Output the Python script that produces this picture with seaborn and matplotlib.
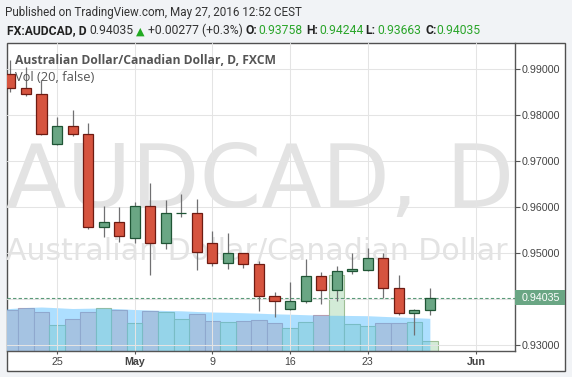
import numpy as np
import pandas as pd
import matplotlib
matplotlib.use("Agg")
import matplotlib.pyplot as plt
import matplotlib.transforms as mtrans
from matplotlib.patches import Rectangle
import seaborn as sns

# ---------------- data ----------------
dates = ["2016-04-20", "2016-04-21", "2016-04-22",
         "2016-04-25", "2016-04-26", "2016-04-27", "2016-04-28", "2016-04-29",
         "2016-05-02", "2016-05-03", "2016-05-04", "2016-05-05", "2016-05-06",
         "2016-05-09", "2016-05-10", "2016-05-11", "2016-05-12", "2016-05-13",
         "2016-05-16", "2016-05-17", "2016-05-18", "2016-05-19", "2016-05-20",
         "2016-05-23", "2016-05-24", "2016-05-25", "2016-05-26", "2016-05-27"]
opens = [0.98874, 0.98572, 0.98441, 0.97357, 0.97754, 0.97587, 0.95558, 0.95666,
         0.95319, 0.96019, 0.95211, 0.95861, 0.95861, 0.95211, 0.94777, 0.94994,
         0.94756, 0.94075, 0.93780, 0.93953, 0.94508, 0.94192, 0.94604, 0.94625,
         0.94899, 0.94235, 0.93693, 0.93758]
highs = [0.99184, 0.99039, 0.98751, 0.97955, 0.98100, 0.97825, 0.96019, 0.95991,
         0.96099, 0.96524, 0.96149, 0.96279, 0.96171, 0.95477, 0.95440, 0.95000,
         0.94834, 0.94161, 0.94365, 0.94864, 0.94582, 0.94712, 0.94994, 0.95102,
         0.94994, 0.94523, 0.93786, 0.94244]
lows = [0.98484, 0.98410, 0.97558, 0.97340, 0.97543, 0.95521, 0.95354, 0.95245,
        0.95224, 0.94523, 0.95087, 0.95787, 0.94632, 0.94725, 0.94653, 0.94682,
        0.93750, 0.93606, 0.93770, 0.93910, 0.93888, 0.93966, 0.94539, 0.94620,
        0.94018, 0.93656, 0.93223, 0.93663]
closes = [0.98571, 0.98441, 0.97574, 0.97754, 0.97587, 0.95558, 0.95666, 0.95375,
          0.96019, 0.95211, 0.95861, 0.95875, 0.95016, 0.94777, 0.94994, 0.94756,
          0.94075, 0.93953, 0.93953, 0.94508, 0.94192, 0.94604, 0.94654, 0.94899,
          0.94235, 0.93693, 0.93758, 0.94035]
volumes = [41.0, 42.7, 38.7, 26.0, 31.7, 38.7, 42.7, 40.7, 27.7, 39.7, 38.7, 31.7,
           37.0, 30.0, 28.7, 30.0, 31.0, 27.7, 22.7, 28.7, 36.0, 76.0, 26.7, 25.0,
           27.7, 27.7, 28.7, 10.0]
ma_dates = ["2016-04-19"] + dates
ma_values = [41.0, 42.5, 43.5, 44.0, 43.3, 42.5, 42.8, 43.0, 42.3, 41.5, 41.0, 40.5,
             40.2, 39.5, 39.0, 38.7, 38.3, 37.8, 37.2, 36.8, 36.3, 35.8, 35.7, 35.5,
             35.3, 34.6, 34.0, 33.4, 32.7]
tick_dates = ["2016-04-25", "2016-05-02", "2016-05-09", "2016-05-16", "2016-05-23", "2016-06-01"]
tick_labels = ["25", "May", "9", "16", "23", "Jun"]
price_ticks = [0.93, 0.94, 0.95, 0.96, 0.97, 0.98, 0.99]
symbol = "FX:AUDCAD, D"
title_line = "Published on TradingView.com, May 27, 2016 12:52 CEST"
legend_line = "Australian Dollar/Canadian Dollar, D, FXCM"
vol_line = "Vol (20, false)"
wm_big = "AUDCAD, D"
wm_small = "Australian Dollar/Canadian Dollar"

# ---------------- style ----------------
sns.set_theme(style="whitegrid")
plt.rcParams["font.family"] = ["Liberation Sans", "DejaVu Sans"]
HEAD = ["Roboto", "DejaVu Sans"]
LEG = ["Open Sans", "DejaVu Sans"]
BG = "#f1f3f6"
RED, RED_E = "#d6543f", "#6e1b12"
GRN, GRN_E = "#6aa684", "#1f5535"
WICK = "#707072"
VOL_DN, VOL_DN_E = "#f0cccc", "#c79aa6"
VOL_UP, VOL_UP_E = "#d3ebd7", "#9fbf96"
MA_COLOR = (75 / 255, 186 / 255, 1.0)
GRID = "#e4e4e4"
AXC = "#555555"
TXT = "#444444"
VAL_GREEN = "#2aa52a"

W, H = 572, 377
fig = plt.figure(figsize=(W / 100, H / 100), dpi=100, facecolor=BG)
fx = lambda x: x / W
fy = lambda y: 1 - y / H
renderer = fig.canvas.get_renderer()


def fit_width(txt, target_px):
    """Scale a text's font size so that its rendered width is target_px."""
    for _ in range(3):
        wpx = txt.get_window_extent(renderer).width
        txt.set_fontsize(txt.get_fontsize() * target_px / wpx)


panel = Rectangle((fx(6.5), fy(370.5)), fx(565) - fx(6.5), fy(43) - fy(370.5),
                  transform=fig.transFigure, fc="white", ec="#505050", lw=1.0, zorder=0)
fig.add_artist(panel)

ax = fig.add_axes([fx(7), fy(351), fx(515) - fx(7), fy(43) - fy(351)])
ax_vol = ax.twinx()
ax.set_zorder(2)
ax_vol.set_zorder(1)
ax.patch.set_visible(False)
ax_vol.patch.set_visible(False)

# trading-day positions
bdays = pd.bdate_range("2016-04-01", "2016-06-30")
base = bdays.get_loc(pd.Timestamp(dates[0]))
pos_of = lambda d: bdays.get_loc(pd.Timestamp(d)) - base
pos = np.array([pos_of(d) for d in dates])
ma_pos = np.array([pos_of(d) for d in ma_dates])
tick_pos = [pos_of(d) for d in tick_dates]

o, h, l, c = map(np.array, (opens, highs, lows, closes))
up = c >= o

# ---------------- volume pane ----------------
vol_df = pd.DataFrame({"pos": pos, "volume": volumes,
                       "dir": np.where(up, "up", "down")})
sns.barplot(data=vol_df, x="pos", y="volume", hue="dir",
            palette={"up": VOL_UP, "down": VOL_DN}, native_scale=True,
            dodge=False, width=1.0, saturation=1, errorbar=None, legend=False,
            ax=ax_vol, linewidth=0.8, zorder=1)
for p in ax_vol.patches:
    fcol = matplotlib.colors.to_hex(p.get_facecolor())
    p.set_edgecolor(VOL_UP_E if fcol == VOL_UP else VOL_DN_E)
ax_vol.fill_between(ma_pos, 0, ma_values, color=MA_COLOR, alpha=0.45, lw=0, zorder=2)
ax_vol.set_ylim(0, 308)
ax_vol.set_yticks([])
ax_vol.set_xlabel("")
ax_vol.set_ylabel("")
ax_vol.grid(False)
for s in ax_vol.spines.values():
    s.set_visible(False)

# watermarks
t_big = ax_vol.text(fx(260), fy(206.7), wm_big, transform=fig.transFigure, ha="center",
                    va="baseline", fontsize=63, color="#e3e3e3", family="DejaVu Sans", zorder=0)
t_small = ax_vol.text(fx(257), fy(260), wm_small, transform=fig.transFigure, ha="center",
                      va="baseline", fontsize=21.5, color="#e3e3e3", family="DejaVu Sans", zorder=0)
fit_width(t_big, 508)
fit_width(t_small, 499)

# ---------------- candles ----------------
ax.vlines(pos, l, h, color=WICK, lw=0.9, zorder=3)
body_bottom = np.minimum(o, c)
body_h = np.maximum(np.abs(c - o), 0.00004)
ax.bar(pos, body_h, bottom=body_bottom, width=0.65,
       color=np.where(up, GRN, RED), edgecolor=np.where(up, GRN_E, RED_E),
       linewidth=0.9, zorder=4)

last = c[-1]
ax.axhline(last, color="#5a9a78", lw=0.8, ls=(0, (3, 2)), zorder=2)

ax.set_xlim(-0.22, 32.48)
ax.set_ylim(0.92876, 0.99553)

# axes styling
ax.yaxis.tick_right()
ax.set_yticks(price_ticks)
# the last-price tag covers the tick label next to it
ax.set_yticklabels(["" if abs(t - last) < 0.003 else f"{t:.5f}" for t in price_ticks])
ax.set_xticks(tick_pos)
ax.set_xticklabels(tick_labels)
for lab in ax.get_xticklabels():
    if not lab.get_text().isdigit():
        lab.set_fontweight("bold")
ax.tick_params(axis="y", direction="out", length=3.6, width=0.8, color=AXC, pad=1.5,
               labelsize=7.7, labelcolor=TXT, right=True, left=False)
ax.tick_params(axis="x", direction="out", length=2.3, width=0.8, color=AXC, pad=2.2,
               labelsize=7.7, labelcolor=TXT, bottom=True)
ax.grid(True, color=GRID, lw=0.75)
ax.set_axisbelow(True)
ax.spines["left"].set_visible(False)
ax.spines["top"].set_visible(False)
for side in ("right", "bottom"):
    ax.spines[side].set_visible(True)
    ax.spines[side].set_color(AXC)
    ax.spines[side].set_linewidth(1.0)

# last-price tag on the price scale
trans = mtrans.blended_transform_factory(ax.transAxes, ax.transData)
ax.add_patch(Rectangle((1.0, last - 0.00155), 50 / 508, 0.0031, transform=trans,
                       clip_on=False, fc=GRN, ec="none", zorder=10))
ax.text(1.0 + 7 / 508, last, f"{last:.5f}", transform=trans, color="white",
        fontsize=7.7, va="center", ha="left", zorder=11, clip_on=False)

# in-chart legend
t_leg = ax.text(fx(15), fy(64.3), legend_line, transform=fig.transFigure, family=LEG,
                fontsize=8.5, fontweight="bold", color="#555555", va="baseline", zorder=12)
t_vol = ax.text(fx(15), fy(81), vol_line, transform=fig.transFigure, family=LEG,
                fontsize=8.5, color="#555555", va="baseline", zorder=12)
fit_width(t_leg, 262)
fit_width(t_vol, 79)

# ---------------- header ----------------
t_title = fig.text(fx(5), fy(16.3), title_line, family=HEAD, fontsize=8.4,
                   color="#333333", va="baseline")
fit_width(t_title, 298)
chg = c[-1] - c[-2]
pct = chg / c[-2] * 100
y2 = fy(34.3)
pieces = [
    (7.3, symbol, "bold", "#222222"),
    (89.3, f"{last:.5f}", "normal", "#333333"),
    (148.3, f"{chg:+.5f} ({pct:+.1f}%)", "normal", "#333333"),
    (245.7, "O:", "bold", "#222222"), (258.7, f"{o[-1]:.5f}", "normal", VAL_GREEN),
    (306.0, "H:", "bold", "#222222"), (319.3, f"{h[-1]:.5f}", "normal", VAL_GREEN),
    (365.7, "L:", "bold", "#222222"), (377.3, f"{l[-1]:.5f}", "normal", VAL_GREEN),
    (425.0, "C:", "bold", "#222222"), (436.0, f"{c[-1]:.5f}", "normal", VAL_GREEN),
]
for x, s, wgt, col in pieces:
    fig.text(fx(x), y2, s, family=HEAD, fontsize=8.7, fontweight=wgt, color=col, va="baseline")
fig.text(fx(135.5), y2, "\u25B2", family="DejaVu Sans", fontsize=8, color="#22aa22", va="baseline")

fig.savefig("out.png", dpi=100, facecolor=BG)
